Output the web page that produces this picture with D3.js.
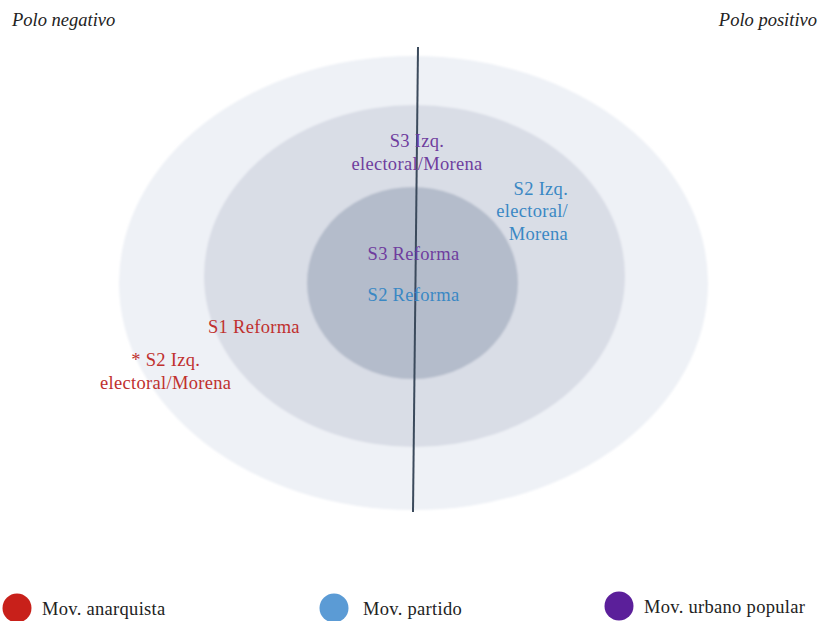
<!DOCTYPE html>
<html><head><meta charset="utf-8">
<script src="https://cdn.jsdelivr.net/npm/d3@7"></script>
<style>html,body{margin:0;padding:0;background:#fff;} svg{display:block;}</style>
</head><body>
<script>
// ---- data ----
const rings = ["Externo", "Intermedio", "Núcleo"];
const ringLevel = [3, 2, 1];          // concentric level (1 = core)
const ringFill = ["#eef1f6", "#d9dde6", "#b4bccb"];
const movements = ["Mov. anarquista", "Mov. partido", "Mov. urbano popular"];
const movementColor = ["#c8201a", "#5b9bd5", "#5b1f9a"];
const movementText = ["#c0302e", "#3a88c4", "#6f3d9e"];
const poles = ["Polo negativo", "Polo positivo"];
// labels: text lines, movement index, position on pole axis (-1..1) and depth (-1 top .. 1 bottom)
const labelLines = [["S3 Izq.", "electoral/Morena"], ["S2 Izq.", "electoral/", "Morena"], ["S3 Reforma"], ["S2 Reforma"], ["S1 Reforma"], ["* S2 Izq.", "electoral/Morena"]];
const labelMovement = [2, 1, 2, 1, 0, 0];
const labelAnchor = ["middle", "end", "middle", "middle", "middle", "middle"];
const labelPole = [0.012, 0.524, 0.0, 0.0, -0.541, -0.84];
const labelDepth = [-0.599, -0.388, -0.101, 0.079, 0.220, 0.366];

// ---- layout ----
const W = 819, H = 621;
const svg = d3.select("body").append("svg").attr("width", W).attr("height", H)
  .style("font-family", "'Liberation Serif', 'DejaVu Serif', serif");

const cx = 413.5, cy = 283;
const xPole = d3.scaleLinear().domain([-1, 1]).range([cx - 295, cx + 295]);
const yDepth = d3.scaleLinear().domain([-1, 1]).range([cy - 227, cy + 227]);
const rxScale = d3.scaleLinear().domain([0, 1, 2, 3]).range([0, 105.5, 210.5, 294.5]);
const ryScale = d3.scaleLinear().domain([0, 1, 2, 3]).range([0, 96, 171, 227]);
const cxOffset = [0, 1, -1];
const cyOffset = [0, -7, 0];

const defs = svg.append("defs");
defs.append("filter").attr("id", "soft").attr("x", "-5%").attr("y", "-5%").attr("width", "110%").attr("height", "110%")
  .append("feGaussianBlur").attr("stdDeviation", 1.2);

svg.append("g").attr("filter", "url(#soft)").selectAll("ellipse").data(rings).join("ellipse")
  .attr("cx", (d, i) => cx + cxOffset[i])
  .attr("cy", (d, i) => cy + cyOffset[i])
  .attr("rx", (d, i) => rxScale(ringLevel[i]))
  .attr("ry", (d, i) => ryScale(ringLevel[i]))
  .attr("fill", (d, i) => ringFill[i]);

// axis line
svg.append("line").attr("x1", 418).attr("y1", 47).attr("x2", 413).attr("y2", 512)
  .attr("stroke", "#3b4a5c").attr("stroke-width", 2);

// pole labels
svg.selectAll("text.pole").data(poles).join("text").attr("class", "pole")
  .attr("x", (d, i) => i === 0 ? 12 : 817).attr("y", 26)
  .attr("text-anchor", (d, i) => i === 0 ? "start" : "end")
  .attr("font-style", "italic").attr("font-size", 18.5).attr("fill", "#222")
  .text(d => d);

// labels
const lg = svg.selectAll("g.lab").data(labelLines).join("g").attr("class", "lab");
lg.each(function (lines, i) {
  const g = d3.select(this);
  const x = xPole(labelPole[i]), y = yDepth(labelDepth[i]);
  lines.forEach((t, j) => {
    g.append("text").attr("x", x).attr("y", y + j * 22.5)
      .attr("text-anchor", labelAnchor[i]).attr("font-size", 18.5)
      .attr("letter-spacing", 0.3)
      .attr("fill", movementText[labelMovement[i]]).text(t);
  });
});

// legend
const legX = d3.scalePoint().domain(movements).range([17, 619]);
const leg = svg.selectAll("g.leg").data(movements).join("g").attr("class", "leg")
  .attr("transform", (d, i) => `translate(${legX(d) + (i === 1 ? 16 : 0)},${i === 2 ? 606 : 608})`);
leg.append("circle").attr("r", 14.5).attr("fill", (d, i) => movementColor[i]);
leg.append("text").attr("x", (d, i) => i === 1 ? 29 : 25).attr("y", 7).attr("font-size", 18.5)
  .attr("letter-spacing", 0.3)
  .attr("fill", "#222").text(d => d);
</script>
</body></html>
